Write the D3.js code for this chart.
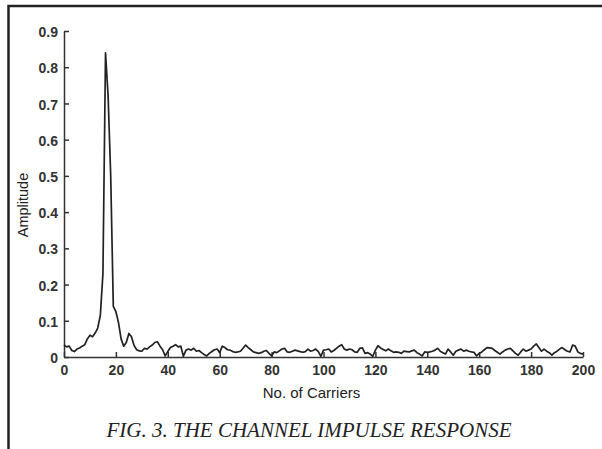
<!DOCTYPE html>
<html>
<head>
<meta charset="utf-8">
<script src="https://cdn.jsdelivr.net/npm/d3@7"></script>
<style>
  html, body { margin: 0; padding: 0; background: #fff; }
  svg { display: block; }
  .tick text { font-family: "Liberation Sans", Arial, sans-serif; font-size: 14px; font-weight: bold; fill: #333; }
  .tick line, .domain { stroke: #333; stroke-width: 1.5; }
</style>
</head>
<body>
<svg id="chart" width="602" height="449"></svg>
<script>
// amplitude per carrier, 0..200
const amplitude = [
  0.033, 0.028, 0.030, 0.018, 0.015, 0.022, 0.025, 0.030, 0.034, 0.050,
  0.060, 0.056, 0.066, 0.080, 0.115, 0.230, 0.840, 0.720, 0.500, 0.140,
  0.125, 0.095, 0.050, 0.030, 0.040, 0.065, 0.056, 0.032, 0.020, 0.017,
  0.016, 0.024, 0.022, 0.028, 0.033, 0.040, 0.042, 0.030, 0.020, 0.003,
  0.015, 0.026, 0.030, 0.034, 0.028, 0.030, 0.002, 0.019, 0.022, 0.019,
  0.024, 0.016, 0.018, 0.012, 0.007, 0.003, 0.010, 0.015, 0.020, 0.022,
  0.012, 0.030, 0.026, 0.020, 0.019, 0.015, 0.013, 0.014, 0.016, 0.024,
  0.033, 0.026, 0.020, 0.014, 0.012, 0.010, 0.012, 0.016, 0.018, 0.010,
  0.003, 0.014, 0.012, 0.017, 0.022, 0.024, 0.014, 0.013, 0.016, 0.019,
  0.017, 0.015, 0.013, 0.015, 0.022, 0.016, 0.018, 0.022, 0.015, 0.002,
  0.019, 0.020, 0.022, 0.014, 0.018, 0.024, 0.030, 0.034, 0.022, 0.019,
  0.022, 0.020, 0.014, 0.013, 0.024, 0.025, 0.010, 0.012, 0.008, 0.002,
  0.019, 0.031, 0.025, 0.021, 0.017, 0.022, 0.017, 0.013, 0.014, 0.013,
  0.010, 0.016, 0.015, 0.014, 0.017, 0.019, 0.012, 0.008, 0.003, 0.014,
  0.013, 0.014, 0.016, 0.019, 0.024, 0.016, 0.012, 0.008, 0.022, 0.014,
  0.005, 0.016, 0.019, 0.022, 0.016, 0.019, 0.016, 0.014, 0.013, 0.003,
  0.010, 0.014, 0.020, 0.026, 0.025, 0.024, 0.018, 0.013, 0.008, 0.014,
  0.019, 0.022, 0.024, 0.017, 0.010, 0.005, 0.014, 0.022, 0.016, 0.019,
  0.022, 0.030, 0.036, 0.026, 0.016, 0.022, 0.016, 0.012, 0.005, 0.012,
  0.016, 0.022, 0.026, 0.020, 0.016, 0.014, 0.033, 0.030, 0.014, 0.010,
  0.008
];
const xTicks = [0, 20, 40, 60, 80, 100, 120, 140, 160, 180, 200];
const yTicks = [0, 0.1, 0.2, 0.3, 0.4, 0.5, 0.6, 0.7, 0.8, 0.9];
const yTickLabels = ["0", "0.1", "0.2", "0.3", "0.4", "0.5", "0.6", "0.7", "0.8", "0.9"];
const xLabel = "No. of Carriers";
const yLabel = "Amplitude";
const caption = "FIG. 3. THE CHANNEL IMPULSE RESPONSE";

const svg = d3.select("#chart");

// page frame (top and left rules of the scanned page)
svg.append("path")
  .attr("d", "M8.5,449V6H602")
  .attr("fill", "none")
  .attr("stroke", "#222")
  .attr("stroke-width", 2.5);

const x = d3.scaleLinear().domain([0, 200]).range([64, 583]);
const y = d3.scaleLinear().domain([0, 0.9]).range([357, 31]);

svg.append("g")
  .attr("transform", "translate(0,357)")
  .call(d3.axisBottom(x).tickValues(xTicks).tickSizeInner(-5).tickSizeOuter(0).tickPadding(8));

svg.append("g")
  .attr("transform", "translate(64,0)")
  .call(d3.axisLeft(y).tickValues(yTicks).tickFormat((d, i) => yTickLabels[i])
    .tickSizeInner(-5).tickSizeOuter(0).tickPadding(6))
  .selectAll(".tick text").attr("dy", "0.4em");

const line = d3.line()
  .x((d, i) => x(i))
  .y(d => y(d));

svg.append("path")
  .datum(amplitude)
  .attr("d", line)
  .attr("fill", "none")
  .attr("stroke", "#222")
  .attr("stroke-width", 1.7)
  .attr("stroke-linejoin", "round");

svg.append("text")
  .attr("x", 311.5)
  .attr("y", 398)
  .attr("text-anchor", "middle")
  .style("font", "15px 'Liberation Sans', Arial, sans-serif")
  .attr("fill", "#222")
  .text(xLabel);

svg.append("text")
  .attr("transform", "translate(28,205) rotate(-90)")
  .attr("text-anchor", "middle")
  .style("font", "14.5px 'Liberation Sans', Arial, sans-serif")
  .attr("fill", "#222")
  .text(yLabel);

svg.append("text")
  .attr("x", 309)
  .attr("y", 437)
  .attr("text-anchor", "middle")
  .style("font", "italic 21px 'Liberation Serif', 'Times New Roman', serif")
  .attr("fill", "#222")
  .text(caption);
</script>
</body>
</html>
